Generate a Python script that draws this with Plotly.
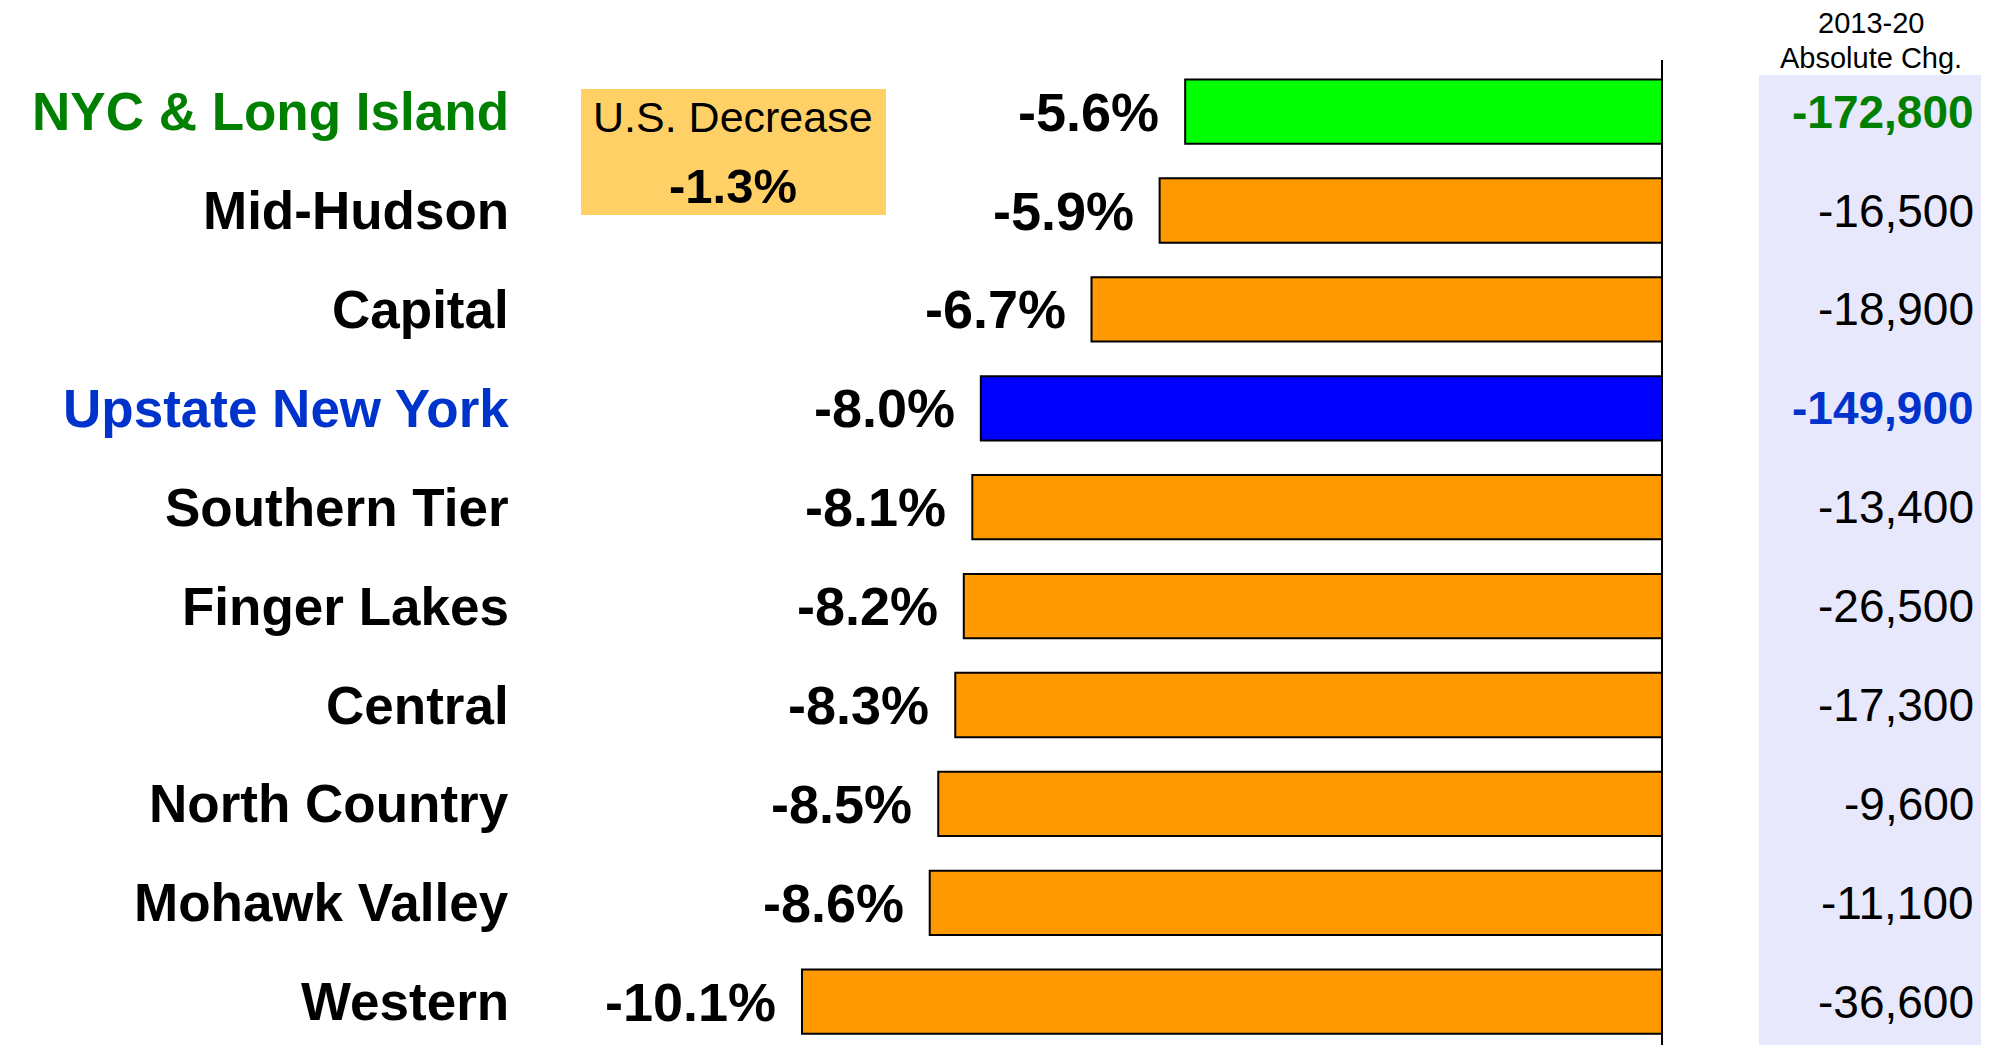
import plotly.graph_objects as go

regions = ["NYC & Long Island", "Mid-Hudson", "Capital", "Upstate New York", "Southern Tier",
           "Finger Lakes", "Central", "North Country", "Mohawk Valley", "Western"]
pct_change = [-5.6, -5.9, -6.7, -8.0, -8.1, -8.2, -8.3, -8.5, -8.6, -10.1]
abs_change = [-172800, -16500, -18900, -149900, -13400, -26500, -17300, -9600, -11100, -36600]
us_change = -1.3

bar_colors = ["#00FF00", "#FF9900", "#FF9900", "#0000FF", "#FF9900",
              "#FF9900", "#FF9900", "#FF9900", "#FF9900", "#FF9900"]
label_colors = ["#008000", "#000000", "#000000", "#0033CC", "#000000",
                "#000000", "#000000", "#000000", "#000000", "#000000"]
highlight = [True, False, False, True, False, False, False, False, False, False]

FONT = "Liberation Sans, Arial, sans-serif"
idx = list(range(len(regions)))

W, H = 1989, 1045
OFF = 8          # page body margin
TOP = 60 - OFF   # plot area top in figure px
PH = H - TOP     # plot area height


def px_x(X):
    return (X - OFF) / W


def px_y(Y):
    return (H - (Y - OFF)) / PH


fig = go.Figure()
fig.add_trace(go.Bar(
    x=pct_change, y=idx, orientation="h", width=0.65,
    marker=dict(color=bar_colors, line=dict(color="#000000", width=2)),
    hoverinfo="skip", showlegend=False,
))

shapes = [
    dict(type="rect", xref="paper", yref="paper", x0=px_x(1759), x1=1.0,
         y0=0, y1=px_y(75), fillcolor="#E8E8FC", line=dict(width=0), layer="below"),
    dict(type="line", xref="x", yref="paper", x0=0, x1=0, y0=0, y1=1,
         line=dict(color="#000000", width=2)),
    dict(type="rect", xref="paper", yref="paper", x0=px_x(581), x1=px_x(886),
         y0=px_y(215), y1=px_y(89), fillcolor="#FFD066", line=dict(width=0)),
]

annotations = []
for i, (r, p, a) in enumerate(zip(regions, pct_change, abs_change)):
    annotations.append(dict(x=px_x(511), xref="paper", y=i, yref="y", text=r, showarrow=False,
                            xanchor="right", yanchor="middle",
                            font=dict(family=FONT, size=53, color=label_colors[i], weight="bold")))
    annotations.append(dict(x=p, xref="x", y=i, yref="y", text=f"{p:.1f}%", showarrow=False,
                            xanchor="right", yanchor="middle", xshift=-24,
                            font=dict(family=FONT, size=54, color="#000000", weight="bold")))
    annotations.append(dict(x=px_x(1976), xref="paper", y=i, yref="y", text=f"{a:,}", showarrow=False,
                            xanchor="right", yanchor="middle",
                            font=dict(family=FONT, size=46,
                                      color=label_colors[i],
                                      weight="bold" if highlight[i] else "normal")))

annotations += [
    dict(x=px_x(1871), xref="paper", y=px_y(23), yref="paper", text="2013-20",
         showarrow=False, xanchor="center", yanchor="middle",
         font=dict(family=FONT, size=29, color="#000000")),
    dict(x=px_x(1871), xref="paper", y=px_y(58), yref="paper", text="Absolute Chg.",
         showarrow=False, xanchor="center", yanchor="middle",
         font=dict(family=FONT, size=29, color="#000000")),
    dict(x=px_x(733), xref="paper", y=px_y(117), yref="paper", text="U.S. Decrease",
         showarrow=False, xanchor="center", yanchor="middle",
         font=dict(family=FONT, size=43, color="#000000")),
    dict(x=px_x(733), xref="paper", y=px_y(186), yref="paper", text=f"{us_change:.1f}%",
         showarrow=False, xanchor="center", yanchor="middle",
         font=dict(family=FONT, size=49, color="#000000", weight="bold")),
]

px_per = 860 / 10.1
zero_fig = 1662 - OFF
x0 = -zero_fig / px_per
x1 = (W - zero_fig) / px_per

c0 = 111.6 - OFF
step = 98.9
y_top = (TOP - c0) / step
y_bot = (H - c0) / step

fig.update_layout(
    width=W, height=H,
    margin=dict(l=0, r=0, t=TOP, b=0),
    paper_bgcolor="#FFFFFF", plot_bgcolor="rgba(0,0,0,0)",
    xaxis=dict(range=[x0, x1], visible=False, fixedrange=True),
    yaxis=dict(range=[y_bot, y_top], visible=False, fixedrange=True),
    shapes=shapes, annotations=annotations,
)

fig.write_html("out.html")
